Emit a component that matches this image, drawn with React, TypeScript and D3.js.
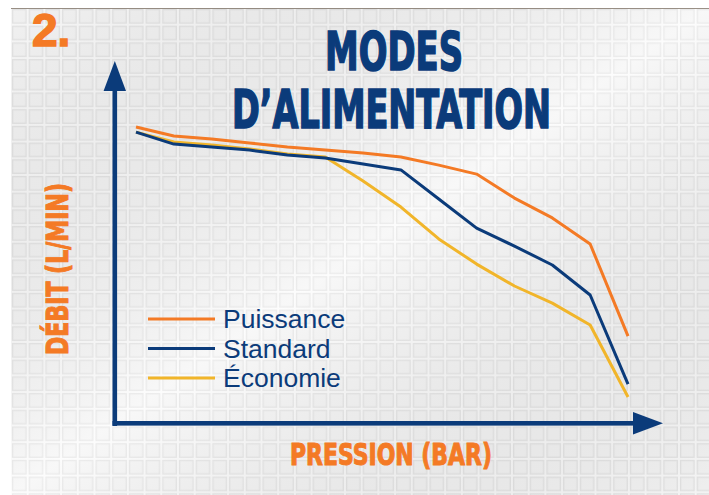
import { useMemo } from 'react';
import { line, scaleLinear } from 'd3';

// pressure steps (no tick labels in the source, so just indices)
const pressure = [0, 1, 2, 3, 4, 5, 6, 7, 8, 9, 10, 11, 12, 13];
const puissance = [99, 96, 95, 93.7, 92.3, 91.3, 90.3, 89, 86.3, 83.3, 75.3, 68.7, 60, 29.3];
const standard = [97.3, 93.3, 92.3, 91.3, 89.7, 88.7, 86.7, 84.7, 75, 65.3, 59.3, 53, 43, 13.3];
const economie = [97.3, 94, 93, 91.7, 90, 89, 81, 72.3, 61.7, 53.3, 46, 40.3, 33, 9];
const seriesNames = ['Puissance', 'Standard', 'Économie'];

const NAVY = '#0b3b7a';
const ORANGE = '#f47a25';
const YELLOW = '#f1b52a';

const W = 709;
const H = 495;

const condensed = "'Liberation Sans Narrow', 'DejaVu Sans Condensed', 'Liberation Sans', sans-serif";

export default function App() {
  const x = scaleLinear().domain([0, 13]).range([136, 628]);
  const y = scaleLinear().domain([0, 120]).range([424, 64]);

  const series = useMemo(
    () => [
      { name: seriesNames[0], values: puissance, color: ORANGE },
      { name: seriesNames[1], values: standard, color: NAVY },
      { name: seriesNames[2], values: economie, color: YELLOW },
    ],
    []
  );

  const path = line<number>()
    .x((_, i) => x(pressure[i]))
    .y((d) => y(d));

  const legendY = scaleLinear().domain([0, 2]).range([319, 378]);

  return (
    <svg width={W} height={H} style={{ position: 'absolute', left: 0, top: 0 }}>
      <defs>
        <pattern id="grid" x="11" y="8" width="16.7" height="16.7" patternUnits="userSpaceOnUse">
          <rect width="16.7" height="16.7" fill="#fcfcfc" />
          <rect x="1.6" y="1.6" width="13.4" height="13.4" fill="#f6f6f6" stroke="#e7e7e7" strokeWidth="1.3" />
        </pattern>
        <linearGradient id="shade" x1="0" y1="0" x2="1" y2="1">
          <stop offset="0" stopColor="#000" stopOpacity="0.02" />
          <stop offset="0.5" stopColor="#fff" stopOpacity="0.2" />
          <stop offset="1" stopColor="#000" stopOpacity="0.03" />
        </linearGradient>
      </defs>
      <rect width={W} height={H} fill="#fff" />
      <rect x={11} y={8} width={W - 11} height={H - 8} fill="url(#grid)" />
      <rect x={11} y={8} width={W - 11} height={H - 8} fill="url(#shade)" />
      <line x1={11} x2={W} y1={8.5} y2={8.5} stroke="#5a4a3a" strokeWidth={1} opacity={0.6} />

      <text
        x={32}
        y={46}
        fill={ORANGE}
        stroke={ORANGE}
        strokeWidth={1.5}
        fontFamily="'Liberation Sans', Arial, sans-serif"
        fontWeight="bold"
        fontSize={46}
      >
        2.
      </text>

      <g fill={NAVY} stroke={NAVY} strokeWidth={1.6} fontFamily={condensed} fontWeight="bold" fontSize={53}>
        <text x={325} y={70} textLength={138} lengthAdjust="spacingAndGlyphs">
          MODES
        </text>
        <text x={232} y={128} textLength={319} lengthAdjust="spacingAndGlyphs">
          D’ALIMENTATION
        </text>
      </g>

      {/* axes */}
      <g fill={NAVY} stroke="none">
        <rect x={112.5} y={85} width={4.6} height={341} />
        <rect x={112.5} y={421} width={525} height={4.6} />
        <path d="M114.8,61 L126,91 L103.6,91 Z" />
        <path d="M663,423.3 L633,412 L633,434.6 Z" />
      </g>

      {/* series (drawn back to front) */}
      {[...series].reverse().map((s) => (
        <path key={s.name} d={path(s.values) || ''} fill="none" stroke={s.color} strokeWidth={3} strokeLinejoin="round" />
      ))}

      {/* legend */}
      {series.map((s, i) => (
        <g key={s.name}>
          <line x1={148} x2={215} y1={legendY(i)} y2={legendY(i)} stroke={s.color} strokeWidth={3} />
          <text
            x={223}
            y={legendY(i) + 9}
            fill={NAVY}
            fontFamily="'Liberation Sans', Arial, sans-serif"
            fontSize={26.5}
          >
            {s.name}
          </text>
        </g>
      ))}

      <text
        x={290}
        y={465}
        fill={ORANGE}
        stroke={ORANGE}
        strokeWidth={1}
        fontFamily={condensed}
        fontWeight="bold"
        fontSize={30}
        textLength={202}
        lengthAdjust="spacingAndGlyphs"
      >
        PRESSION (BAR)
      </text>
      <text
        transform="translate(68, 355) rotate(-90)"
        fill={ORANGE}
        stroke={ORANGE}
        strokeWidth={1}
        fontFamily={condensed}
        fontWeight="bold"
        fontSize={30}
        textLength={172}
        lengthAdjust="spacingAndGlyphs"
      >
        DÉBIT (L/MIN)
      </text>
    </svg>
  );
}
